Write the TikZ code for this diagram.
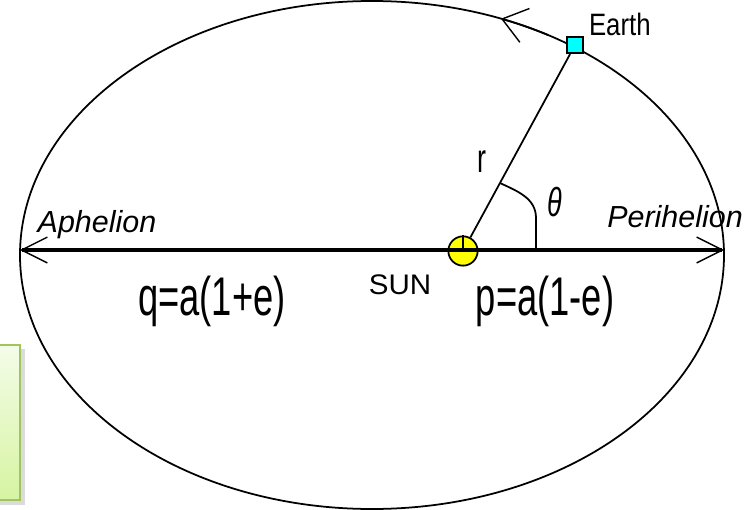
\documentclass[tikz,border=0pt]{standalone}
\usepackage{fontspec}
\setsansfont{Liberation Sans}
\usepackage{tikz}
\usetikzlibrary{arrows.meta,calc}
\definecolor{suncol}{RGB}{255,255,0}
\definecolor{earthcol}{RGB}{0,255,255}
\definecolor{boxedge}{RGB}{160,196,96}
\definecolor{boxtop}{RGB}{244,252,232}
\definecolor{boxbot}{RGB}{214,244,162}
\definecolor{boxshad}{gray}{0.86}
\tikzset{
  orb/.style={line width=1.5pt},
  axisl/.style={line width=2.6pt,{Straight Barb[length=22pt,width=22pt,line width=1.2pt]}-{Straight Barb[length=22pt,width=22pt,line width=1.2pt]}},
  orbarrow/.style={line width=1.5pt,-{Straight Barb[length=20pt,width=30pt,line width=1.2pt]}},
  sunv/.style={draw,circle,fill=suncol,line width=1.5pt,inner sep=0pt,minimum size=25pt},
  earthv/.style={draw,rectangle,fill=earthcol,line width=1.5pt,inner sep=0pt,minimum size=14pt},
  eqn/.style={font=\sffamily\fontsize{31}{31}\selectfont,yscale=1.5},
  sym/.style={font=\sffamily\fontsize{23}{23}\selectfont,yscale=1.5},
  place/.style={font=\sffamily\itshape\fontsize{26}{26}\selectfont},
  planet/.style={font=\sffamily\fontsize{22}{22}\selectfont,inner sep=1pt,yscale=1.2},
  sunlab/.style={font=\sffamily\fontsize{21}{21}\selectfont,xscale=1.2,yscale=1.15},
}
\begin{document}
\begin{tikzpicture}[x=0.03cm,y=0.03cm]
  \useasboundingbox (0,0) rectangle (755,-510);
  \clip (0,0) rectangle (755,-510);
  \fill[boxshad] (-5,-349) rectangle (25,-505);
  \shadedraw[top color=boxtop,bottom color=boxbot,draw=boxedge,line width=1.5pt] (-5,-345) rectangle (20,-500);
  \draw[orb] (372,-255) ellipse [x radius=352,y radius=254];
  \draw[orbarrow] (372,-255) ++(60:352 and 254) arc [start angle=60,end angle=68.5,x radius=352,y radius=254];
  \node[sunv] (sun) at (463,-251) {};
  \node[earthv] (earth) at (575,-45) {};
  \coordinate (aph) at (20,-250);
  \coordinate (per) at (724,-250);
  \draw[axisl] (aph) -- (per);
  \draw[line width=1.5pt] (sun.north) -- (sun.center);
  \draw[orb] (sun) -- (earth);
  \coordinate (angstart) at ($(sun.center)!0.33!(earth.center)$);
  \coordinate (angbend) at (536,-218);
  \coordinate (angfoot) at (536,-250);
  \draw[orb] (angstart) to[out=-25,in=90] (angbend) -- (angfoot);
  \node[planet,anchor=base west] (earthl) at ([xshift=3pt]earth.north east) {Earth};
  \node[place,anchor=base] (aphl) at (97,-232) {Aphelion};
  \node[place,anchor=base] (perl) at (675,-227) {Perihelion};
  \node[sym] (rl) at (482,-162) {r};
  \node[sym] (thl) at (555,-202) {\itshape θ};
  \node[eqn] (ql) at (212,-301) {q=a(1+e)};
  \node[sunlab] (sunl) at (400,-285) {SUN};
  \node[eqn] (pl) at (545,-301) {p=a(1-e)};
\end{tikzpicture}
\end{document}
